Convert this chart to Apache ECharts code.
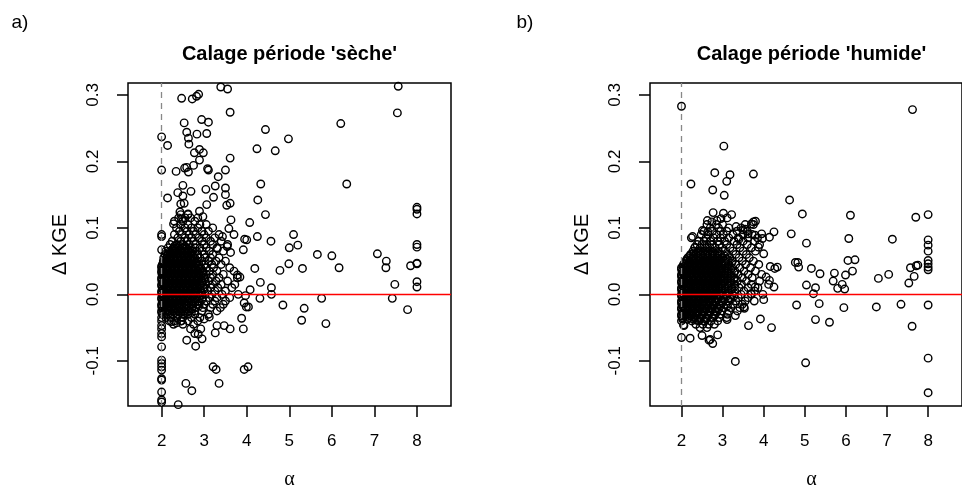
<!DOCTYPE html>
<html><head><meta charset="utf-8">
<script src="https://cdn.jsdelivr.net/npm/echarts@6/dist/echarts.min.js"></script>
<style>html,body{margin:0;padding:0;background:#fff}#c{width:962px;height:486px}</style>
</head><body><div id="c"></div>
<script>
// ---- data ----
const panelLetters = ['a)', 'b)'];
const panelTitles = ["Calage période 'sèche'", "Calage période 'humide'"];
const xTicks = [2, 3, 4, 5, 6, 7, 8];
const yTicks = [-0.1, 0.0, 0.1, 0.2, 0.3];
const yTickLabels = ['-0.1', '0.0', '0.1', '0.2', '0.3'];
const xName = 'α';
const yName = 'Δ KGE';

// dry period: isolated points [alpha, dKGE]
const dryOutliers = [
 [3.39,0.312],[3.55,0.309],[2.47,0.295],[2.72,0.294],[2.82,0.298],[2.87,0.301],[3.61,0.274],[2.94,0.263],[3.10,0.259],[2.53,0.258],
 [2.00,0.237],[2.14,0.224],[2.59,0.244],[2.83,0.241],[3.06,0.242],[2.63,0.235],[2.64,0.226],[2.89,0.218],[2.77,0.213],[2.98,0.213],
 [2.89,0.202],[3.61,0.205],[2.00,0.187],[2.34,0.185],[2.54,0.190],[2.59,0.191],[2.63,0.184],[2.75,0.194],[3.08,0.189],[3.10,0.187],
 [3.33,0.177],[3.50,0.187],[2.14,0.145],[3.04,0.158],[3.26,0.163],[3.50,0.160],[3.50,0.150],[2.50,0.164],[2.38,0.153],[2.69,0.155],
 [2.50,0.148],[3.22,0.146],[3.06,0.135],[3.61,0.137],[3.53,0.134],[2.45,0.136],[2.53,0.137],[2.89,0.125],[2.43,0.124],[2.62,0.121],
 [2.00,0.090],[2.00,0.087],[2.00,0.067],[2.28,0.106],[2.47,0.113],[2.97,0.117],[3.63,0.112],[3.58,0.099],[4.07,0.108],
 [4.00,0.082],[3.95,0.083],[4.25,0.087],[3.43,0.087],[3.70,0.090],[3.92,0.067],[4.57,0.080],[5.10,0.090],[5.00,0.070],[5.20,0.074],
 [3.62,0.063],[3.54,0.072],[3.31,0.069],[5.66,0.060],[6.00,0.058],[7.07,0.061],[7.28,0.050],[7.27,0.040],
 [8.00,0.131],[8.00,0.128],[8.00,0.121],[8.00,0.075],[8.00,0.071],[8.00,0.046],[8.00,0.047],[7.85,0.043],[8.00,0.019],[8.00,0.011],
 [7.48,0.015],[7.42,-0.006],[7.78,-0.023],[4.19,0.039],[4.78,0.036],[4.99,0.046],[5.31,0.039],[6.17,0.040],[4.32,0.018],[4.58,0.010],
 [4.58,0.000],[4.08,0.007],[4.31,-0.006],[4.85,-0.016],[5.76,-0.006],[5.35,-0.021],[5.29,-0.039],[5.86,-0.044],[6.35,0.166],[6.21,0.257],
 [7.56,0.313],[7.54,0.273],[4.44,0.248],[4.24,0.219],[4.67,0.216],[4.98,0.234],[4.33,0.166],[4.26,0.142],[4.44,0.120],
 [3.94,-0.013],[3.99,-0.019],[3.88,-0.036],[3.92,-0.052],[3.94,-0.113],[4.03,-0.109],[3.21,-0.109],[3.28,-0.113],[3.35,-0.134],
 [2.57,-0.134],[2.71,-0.145],[2.39,-0.166],[3.26,-0.058],[3.61,-0.052],[3.47,-0.047],[3.30,-0.047],[2.80,-0.078],[2.59,-0.069],
 [2.95,-0.067],[2.78,-0.059],[2.86,-0.060],[2.92,-0.052],[3.00,-0.037],[3.12,-0.034],[3.84,0.026],[3.78,0.029],[3.97,-0.002],[4.04,-0.019],
 [2.00,-0.047],[2.00,-0.052],[2.00,-0.059],[2.00,-0.064],[2.00,-0.079],[2.00,-0.099],[2.00,-0.104],[2.00,-0.109],[2.00,-0.114],
 [2.00,-0.127],[2.00,-0.129],[2.00,-0.147],[2.00,-0.159],[2.00,-0.162],[2.23,-0.041],[2.35,-0.043],[2.47,-0.040],[2.68,-0.052]
];
// dry period: dense cloud, rows of [dKGE, alpha, alpha, ...]
const dryCluster = [
 [0.120, 2.45, 2.62],
 [0.115, 2.40, 2.55, 2.68, 2.85],
 [0.110, 2.30, 2.50, 2.78],
 [0.105, 2.45, 2.62, 2.90, 3.05],
 [0.100, 2.35, 2.55, 2.70, 2.85, 3.20],
 [0.095, 2.42, 2.60, 2.75, 2.95, 3.10],
 [0.090, 2.30, 2.48, 2.65, 2.80, 3.00, 3.35],
 [0.085, 2.38, 2.55, 2.70, 2.88, 3.05, 3.25],
 [0.080, 2.25, 2.45, 2.60, 2.75, 2.95, 3.15, 3.40],
 [0.075, 2.20, 2.35, 2.50, 2.65, 2.80, 3.00, 3.20, 3.55],
 [0.070, 2.15, 2.28, 2.38, 2.48, 2.58, 2.68, 2.78, 2.90, 3.05, 3.30],
 [0.065, 2.10, 2.20, 2.32, 2.42, 2.52, 2.62, 2.72, 2.82, 2.95, 3.12, 3.45],
 [0.060, 2.08, 2.15, 2.25, 2.35, 2.45, 2.55, 2.65, 2.75, 2.85, 3.00, 3.20],
 [0.055, 2.05, 2.12, 2.18, 2.28, 2.38, 2.48, 2.58, 2.68, 2.78, 2.90, 3.02, 3.15, 3.35],
 [0.050, 2.04, 2.12, 2.22, 2.32, 2.42, 2.52, 2.62, 2.72, 2.83, 2.95, 3.10, 3.28, 3.50],
 [0.045, 2.02, 2.07, 2.17, 2.27, 2.37, 2.47, 2.57, 2.67, 2.77, 2.88, 3.00, 3.18, 3.40],
 [0.040, 2.00, 2.10, 2.20, 2.30, 2.40, 2.50, 2.60, 2.70, 2.80, 2.92, 3.05, 3.22, 3.60],
 [0.035, 2.00, 2.05, 2.15, 2.25, 2.35, 2.45, 2.55, 2.65, 2.75, 2.85, 2.97, 3.12, 3.30, 3.70],
 [0.030, 2.02, 2.10, 2.20, 2.30, 2.40, 2.50, 2.60, 2.70, 2.80, 2.92, 3.05, 3.20, 3.45],
 [0.025, 2.00, 2.06, 2.16, 2.26, 2.36, 2.46, 2.56, 2.66, 2.76, 2.87, 3.00, 3.15, 3.35, 3.78],
 [0.020, 2.01, 2.11, 2.21, 2.31, 2.41, 2.51, 2.61, 2.71, 2.82, 2.95, 3.10, 3.28, 3.55],
 [0.015, 2.00, 2.06, 2.16, 2.26, 2.36, 2.46, 2.56, 2.66, 2.77, 2.90, 3.03, 3.20, 3.40, 3.72],
 [0.010, 2.02, 2.11, 2.21, 2.31, 2.41, 2.51, 2.61, 2.72, 2.84, 2.98, 3.15, 3.32, 3.65],
 [0.005, 2.00, 2.07, 2.17, 2.27, 2.37, 2.47, 2.57, 2.68, 2.80, 2.93, 3.08, 3.25, 3.50],
 [0.000, 2.01, 2.12, 2.22, 2.32, 2.42, 2.52, 2.62, 2.74, 2.87, 3.02, 3.18, 3.42, 3.80],
 [-0.005, 2.00, 2.06, 2.16, 2.26, 2.36, 2.46, 2.56, 2.68, 2.82, 2.96, 3.12, 3.30, 3.60],
 [-0.010, 2.02, 2.10, 2.20, 2.30, 2.40, 2.50, 2.60, 2.72, 2.86, 3.05, 3.25, 3.50],
 [-0.015, 2.00, 2.07, 2.17, 2.27, 2.37, 2.47, 2.58, 2.70, 2.85, 3.00, 3.20, 3.45],
 [-0.020, 2.01, 2.12, 2.22, 2.32, 2.42, 2.53, 2.65, 2.80, 2.97, 3.15, 3.38],
 [-0.025, 2.00, 2.08, 2.18, 2.28, 2.40, 2.52, 2.65, 2.78, 2.95, 3.30],
 [-0.030, 2.02, 2.14, 2.26, 2.38, 2.50, 2.62, 2.78, 3.10],
 [-0.035, 2.00, 2.10, 2.22, 2.36, 2.50, 2.70, 2.90],
 [-0.040, 2.00, 2.18, 2.30, 2.45, 2.62, 2.85],
 [-0.045, 2.28, 2.50, 2.75]
];
// dry period: innermost, most crowded part of the cloud
const dryCore = [
 [0.0725, 2.30, 2.42, 2.55],
 [0.0675, 2.25, 2.33, 2.43, 2.53, 2.63],
 [0.0625, 2.20, 2.30, 2.40, 2.50, 2.60, 2.70],
 [0.0575, 2.13, 2.23, 2.33, 2.43, 2.53, 2.63, 2.73],
 [0.0525, 2.08, 2.17, 2.27, 2.37, 2.47, 2.57, 2.67, 2.77],
 [0.0475, 2.04, 2.12, 2.22, 2.32, 2.42, 2.52, 2.62, 2.72, 2.82],
 [0.0425, 2.00, 2.05, 2.15, 2.25, 2.35, 2.45, 2.55, 2.65, 2.75, 2.86],
 [0.0375, 2.02, 2.10, 2.20, 2.30, 2.40, 2.50, 2.60, 2.70, 2.80, 2.91],
 [0.0325, 2.00, 2.06, 2.15, 2.25, 2.35, 2.45, 2.55, 2.65, 2.75, 2.86, 2.98],
 [0.0275, 2.03, 2.11, 2.21, 2.31, 2.41, 2.51, 2.61, 2.71, 2.81, 2.93],
 [0.0225, 2.00, 2.06, 2.16, 2.26, 2.36, 2.46, 2.56, 2.66, 2.76, 2.88, 3.02],
 [0.0175, 2.03, 2.11, 2.21, 2.31, 2.41, 2.51, 2.61, 2.71, 2.83, 2.96],
 [0.0125, 2.00, 2.06, 2.16, 2.26, 2.36, 2.46, 2.56, 2.66, 2.78, 2.91],
 [0.0075, 2.03, 2.12, 2.22, 2.32, 2.42, 2.52, 2.62, 2.73, 2.86, 3.00],
 [0.0025, 2.00, 2.07, 2.17, 2.27, 2.37, 2.47, 2.57, 2.68, 2.80, 2.94],
 [-0.0025, 2.03, 2.11, 2.21, 2.31, 2.41, 2.51, 2.61, 2.75, 2.89],
 [-0.0075, 2.00, 2.06, 2.15, 2.25, 2.35, 2.45, 2.55, 2.66, 2.79, 2.95],
 [-0.0125, 2.03, 2.12, 2.22, 2.32, 2.42, 2.52, 2.64, 2.78],
 [-0.0175, 2.00, 2.06, 2.17, 2.27, 2.37, 2.48, 2.60, 2.73, 2.88],
 [-0.0225, 2.03, 2.13, 2.23, 2.35, 2.46, 2.58, 2.71],
 [-0.0275, 2.00, 2.08, 2.20, 2.32, 2.44, 2.56, 2.70]
];

// wet period: isolated points
const wetOutliers = [
 [2.00,0.283],[7.62,0.278],[3.03,0.223],[2.81,0.183],[3.18,0.180],[3.75,0.181],[3.10,0.170],[2.23,0.166],[2.76,0.157],[3.04,0.149],
 [4.63,0.142],[4.94,0.121],[6.11,0.119],[7.70,0.116],[8.00,0.120],[2.77,0.123],[3.02,0.122],[3.22,0.120],[4.67,0.091],[4.25,0.094],
 [5.04,0.077],[6.07,0.084],[7.13,0.083],[8.00,0.082],[8.00,0.074],[8.00,0.065],[8.00,0.051],[8.00,0.046],[8.00,0.041],[8.00,0.037],
 [7.75,0.044],[7.71,0.043],[7.57,0.040],[7.66,0.027],[7.53,0.017],[7.04,0.030],[6.79,0.024],[4.83,0.048],[4.85,0.041],[4.77,0.048],
 [5.16,0.039],[5.37,0.031],[5.04,0.014],[5.26,0.010],[5.21,0.001],[5.72,0.032],[5.69,0.020],[5.80,0.009],[5.91,0.015],[5.97,0.008],
 [5.99,0.029],[6.05,0.051],[6.22,0.052],[6.16,0.035],[5.35,-0.014],[4.80,-0.016],[5.95,-0.020],[6.74,-0.019],[7.34,-0.015],[8.00,-0.016],
 [5.26,-0.038],[5.60,-0.042],[7.61,-0.048],[5.02,-0.103],[8.00,-0.096],[8.00,-0.148],[3.31,-0.101],[4.19,-0.050],[3.92,-0.037],[3.63,-0.047],
 [2.88,-0.061],[2.76,-0.074],[2.67,-0.069],[2.70,-0.068],[2.50,-0.062],[2.21,-0.066],[2.00,-0.065],[2.06,-0.047],
 [3.95,0.091],[3.97,0.084],[3.87,0.071],[4.00,0.061],[4.14,0.086],[4.33,0.041],[4.27,0.039],[4.16,0.042],[4.06,0.026],[4.14,0.021],
 [4.25,0.011],[4.00,-0.008],[3.79,0.011],[3.69,0.001],[3.52,-0.019],[3.79,0.089],[3.75,0.109],[3.80,0.110],[3.70,0.106],[3.50,0.097],
 [3.55,0.098],[3.33,0.102],[3.40,0.083],[3.62,0.091],[2.24,0.085],[2.27,0.087],[2.33,0.071],[2.51,0.096],[2.64,0.094],[2.63,0.111],
 [2.74,0.109],[2.86,0.111],[2.96,0.114],[3.11,0.115],[3.53,-0.021],[3.77,-0.010],[3.11,-0.038],[3.31,-0.032],[2.37,-0.039],[2.05,-0.046]
];
// wet period: dense cloud, rows of [dKGE, alpha, alpha, ...]
const wetCluster = [
 [0.105, 2.62, 2.85, 3.00, 3.55, 3.75],
 [0.100, 2.70, 2.90, 3.15, 3.45],
 [0.095, 2.55, 2.75, 2.95, 3.10, 3.35, 3.60],
 [0.090, 2.48, 2.65, 2.85, 3.02, 3.25, 3.50, 3.72],
 [0.085, 2.60, 2.78, 2.95, 3.15, 3.38, 3.62, 3.85],
 [0.080, 2.42, 2.55, 2.70, 2.88, 3.05, 3.28, 3.50, 3.78],
 [0.075, 2.38, 2.50, 2.62, 2.75, 2.92, 3.10, 3.35, 3.60, 3.90],
 [0.070, 2.32, 2.45, 2.58, 2.70, 2.82, 2.98, 3.18, 3.42, 3.70],
 [0.065, 2.28, 2.40, 2.52, 2.64, 2.76, 2.90, 3.05, 3.25, 3.50, 3.80],
 [0.060, 2.22, 2.35, 2.47, 2.58, 2.70, 2.82, 2.95, 3.12, 3.32, 3.58],
 [0.055, 2.15, 2.28, 2.40, 2.52, 2.63, 2.75, 2.87, 3.00, 3.18, 3.40, 3.65],
 [0.050, 2.10, 2.20, 2.32, 2.44, 2.56, 2.68, 2.80, 2.92, 3.06, 3.24, 3.48, 3.75],
 [0.045, 2.05, 2.15, 2.26, 2.38, 2.50, 2.62, 2.74, 2.86, 2.99, 3.14, 3.32, 3.56, 3.88],
 [0.040, 2.00, 2.10, 2.20, 2.32, 2.44, 2.56, 2.68, 2.80, 2.93, 3.07, 3.22, 3.42, 3.68],
 [0.035, 2.02, 2.14, 2.25, 2.36, 2.48, 2.60, 2.72, 2.85, 2.98, 3.12, 3.30, 3.52, 3.80],
 [0.030, 2.00, 2.08, 2.19, 2.30, 2.42, 2.54, 2.66, 2.78, 2.91, 3.05, 3.20, 3.38, 3.62, 3.95],
 [0.025, 2.01, 2.12, 2.23, 2.35, 2.47, 2.59, 2.71, 2.84, 2.97, 3.12, 3.28, 3.48, 3.72],
 [0.020, 2.00, 2.06, 2.17, 2.28, 2.40, 2.52, 2.64, 2.76, 2.90, 3.04, 3.20, 3.36, 3.58, 3.90],
 [0.015, 2.02, 2.11, 2.22, 2.34, 2.46, 2.58, 2.70, 2.83, 2.97, 3.12, 3.28, 3.46, 3.70, 4.12],
 [0.010, 2.00, 2.06, 2.16, 2.28, 2.40, 2.52, 2.64, 2.77, 2.91, 3.06, 3.22, 3.40, 3.62, 3.86],
 [0.005, 2.01, 2.11, 2.22, 2.34, 2.46, 2.58, 2.70, 2.84, 2.98, 3.14, 3.30, 3.52, 3.78],
 [0.000, 2.00, 2.06, 2.17, 2.29, 2.41, 2.53, 2.65, 2.78, 2.92, 3.08, 3.24, 3.45, 3.70, 3.98],
 [-0.005, 2.02, 2.12, 2.24, 2.36, 2.48, 2.60, 2.73, 2.87, 3.02, 3.18, 3.38, 3.62],
 [-0.010, 2.00, 2.07, 2.18, 2.30, 2.42, 2.55, 2.68, 2.82, 2.97, 3.13, 3.32, 3.55],
 [-0.015, 2.01, 2.13, 2.25, 2.37, 2.50, 2.63, 2.77, 2.92, 3.08, 3.26, 3.48],
 [-0.020, 2.00, 2.08, 2.20, 2.32, 2.45, 2.58, 2.72, 2.87, 3.03, 3.20, 3.42],
 [-0.025, 2.02, 2.14, 2.27, 2.40, 2.53, 2.67, 2.82, 2.98, 3.15, 3.36],
 [-0.030, 2.00, 2.10, 2.23, 2.36, 2.50, 2.64, 2.80, 2.95, 3.12],
 [-0.035, 2.02, 2.18, 2.32, 2.46, 2.60, 2.76, 2.92, 3.10],
 [-0.040, 2.00, 2.25, 2.42, 2.56, 2.72, 2.88],
 [-0.045, 2.35, 2.52, 2.66, 2.80],
 [-0.050, 2.45, 2.62]
];
// wet period: innermost, most crowded part of the cloud
const wetCore = [
 [0.0625, 2.30, 2.41, 2.52, 2.63, 2.75, 2.88],
 [0.0575, 2.20, 2.30, 2.41, 2.52, 2.64, 2.76, 2.89, 3.05],
 [0.0525, 2.13, 2.24, 2.35, 2.46, 2.58, 2.70, 2.82, 2.95, 3.12],
 [0.0475, 2.08, 2.19, 2.30, 2.41, 2.53, 2.65, 2.77, 2.90, 3.05, 3.22],
 [0.0425, 2.04, 2.14, 2.25, 2.37, 2.49, 2.61, 2.73, 2.86, 2.99, 3.14],
 [0.0375, 2.00, 2.07, 2.19, 2.30, 2.42, 2.54, 2.66, 2.78, 2.91, 3.05, 3.20],
 [0.0325, 2.03, 2.13, 2.24, 2.36, 2.48, 2.60, 2.72, 2.84, 2.97, 3.12, 3.28],
 [0.0275, 2.00, 2.07, 2.18, 2.30, 2.42, 2.54, 2.66, 2.78, 2.90, 3.04, 3.20],
 [0.0225, 2.03, 2.12, 2.23, 2.35, 2.47, 2.59, 2.71, 2.83, 2.97, 3.12, 3.28],
 [0.0175, 2.00, 2.07, 2.17, 2.29, 2.41, 2.53, 2.65, 2.77, 2.90, 3.04, 3.20],
 [0.0125, 2.03, 2.12, 2.23, 2.35, 2.47, 2.59, 2.71, 2.84, 2.98, 3.14, 3.30],
 [0.0075, 2.00, 2.07, 2.18, 2.30, 2.42, 2.54, 2.66, 2.78, 2.91, 3.06, 3.22],
 [0.0025, 2.03, 2.12, 2.23, 2.35, 2.47, 2.59, 2.71, 2.85, 2.99, 3.15],
 [-0.0025, 2.00, 2.07, 2.18, 2.30, 2.42, 2.54, 2.66, 2.79, 2.94, 3.10, 3.28],
 [-0.0075, 2.03, 2.12, 2.24, 2.36, 2.48, 2.61, 2.74, 2.89, 3.04, 3.20],
 [-0.0125, 2.00, 2.07, 2.19, 2.31, 2.43, 2.56, 2.70, 2.84, 3.00],
 [-0.0175, 2.03, 2.14, 2.26, 2.38, 2.51, 2.65, 2.79, 2.95, 3.12],
 [-0.0225, 2.00, 2.08, 2.20, 2.33, 2.46, 2.60, 2.74, 2.90],
 [-0.0275, 2.03, 2.15, 2.28, 2.41, 2.55, 2.69, 2.85],
 [-0.0325, 2.00, 2.09, 2.22, 2.36, 2.50, 2.65, 2.80],
 [-0.0375, 2.03, 2.15, 2.30, 2.45, 2.60]
];

// ---- build ----
function rowsToPoints(rows) {
  const out = [];
  rows.forEach(r => r.slice(1).forEach(x => out.push([x, r[0]])));
  return out;
}
const dryPoints = dryOutliers.concat(rowsToPoints(dryCluster), rowsToPoints(dryCore));
const wetPoints = wetOutliers.concat(rowsToPoints(wetCluster), rowsToPoints(wetCore));

const SANS = '"Liberation Sans", Arial, Helvetica, sans-serif';
const SERIF = '"Liberation Serif", "DejaVu Serif", serif';
const plotW = 323, plotH = 323, plotTop = 83;
const lefts = [128, 650];
const xRanges = [[1.21, 8.8], [1.234, 8.824]];

const grids = [], xAxes = [], yAxes = [], series = [], graphics = [];
[dryPoints, wetPoints].forEach((pts, i) => {
  grids.push({left: lefts[i], top: plotTop, width: plotW, height: plotH, show: true,
    borderColor: '#000', borderWidth: 1.5, backgroundColor: 'transparent', containLabel: false});
  xAxes.push({type: 'value', gridIndex: i, min: xRanges[i][0], max: xRanges[i][1], position: 'bottom',
    axisLine: {show: false, onZero: false}, splitLine: {show: false},
    axisTick: {show: true, length: 11, inside: false, customValues: xTicks, lineStyle: {color: '#000', width: 1.5}},
    axisLabel: {show: true, customValues: xTicks, margin: 27, color: '#000', fontSize: 17, fontFamily: SANS,
      formatter: v => String(Math.round(v))}});
  yAxes.push({type: 'value', gridIndex: i, min: -0.168, max: 0.318, position: 'left',
    axisLine: {show: false, onZero: false}, splitLine: {show: false},
    axisTick: {show: true, length: 11, inside: false, customValues: yTicks, lineStyle: {color: '#000', width: 1.5}},
    axisLabel: {show: true, customValues: yTicks, rotate: 90, margin: 26, color: '#000', fontSize: 17, fontFamily: SANS,
      formatter: v => yTickLabels[yTicks.findIndex(t => Math.abs(t - v) < 1e-9)]}});
  // dashed reference at alpha = 2
  series.push({type: 'scatter', xAxisIndex: i, yAxisIndex: i, data: [], z: 1, silent: true,
    markLine: {silent: true, symbol: 'none', label: {show: false}, animation: false,
      lineStyle: {color: '#888', type: [6, 5], width: 1.3}, data: [{xAxis: 2}]}});
  series.push({type: 'scatter', xAxisIndex: i, yAxisIndex: i, data: pts, z: 2, silent: true,
    symbol: 'circle', symbolSize: 7.5, large: false,
    itemStyle: {color: 'rgba(0,0,0,0)', borderColor: '#000', borderWidth: 1.4, opacity: 1}});
  // zero line
  series.push({type: 'scatter', xAxisIndex: i, yAxisIndex: i, data: [], z: 3, silent: true,
    markLine: {silent: true, symbol: 'none', label: {show: false}, animation: false,
      lineStyle: {color: '#ff0000', type: 'solid', width: 1.4}, data: [{yAxis: 0}]}});
  const cx = lefts[i] + plotW / 2;
  graphics.push({type: 'text', x: cx, y: 54, style: {text: panelTitles[i], align: 'center', verticalAlign: 'middle',
    font: 'bold 20px ' + SANS, fill: '#000'}});
  graphics.push({type: 'text', x: cx, y: 480, style: {text: xName, align: 'center', verticalAlign: 'middle',
    font: '20px ' + SERIF, fill: '#000'}});
  graphics.push({type: 'text', x: lefts[i] - 68, y: plotTop + plotH / 2, rotation: Math.PI / 2,
    style: {text: yName, align: 'center', verticalAlign: 'middle', font: '20px ' + SANS, fill: '#000'}});
  graphics.push({type: 'text', x: [20, 525][i], y: 23, style: {text: panelLetters[i], align: 'center', verticalAlign: 'middle',
    font: '19px ' + SANS, fill: '#000'}});
});

const chart = echarts.init(document.getElementById('c'), null, {renderer: 'canvas'});
chart.setOption({
  animation: false,
  backgroundColor: '#fff',
  grid: grids, xAxis: xAxes, yAxis: yAxes, series: series, graphic: graphics
});
</script></body></html>
